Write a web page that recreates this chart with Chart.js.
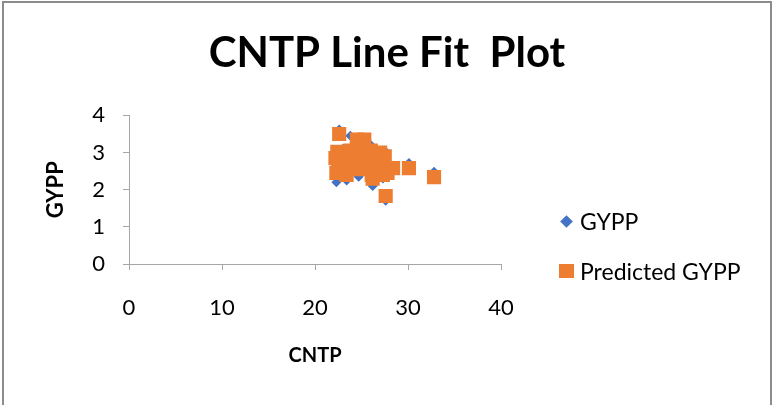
<!DOCTYPE html>
<html lang="en">
<head>
  <meta charset="UTF-8">
  <title>CNTP Line Fit Plot</title>
  <script src="https://cdn.jsdelivr.net/npm/chart.js"></script>
  <style>
    body { margin: 0; padding: 0; background: #fff; }
    #wrap { position: relative; width: 774px; height: 405px; overflow: hidden; }
    #frame {
      position: absolute; left: 2px; top: 1px; width: 766px; height: 440px;
      border: 2px solid #8c8c8c; pointer-events: none;
    }
    canvas { position: absolute; left: 0; top: 0; }
    #legend {
      position: absolute; left: 556px; top: 207px;
      font-family: Lato, "Open Sans", sans-serif; font-size: 23px; color: #000;
    }
    #legend .item { display: flex; align-items: center; height: 28px; margin-bottom: 22px; }
    #legend .mark { width: 20px; height: 20px; margin-right: 4px; display: flex;
                    align-items: center; justify-content: center; }
    #legend .diamond { width: 9px; height: 9px; transform: rotate(45deg); }
    #legend .square { width: 15px; height: 14px; }
  </style>
</head>
<body>
  <div id="wrap">
    <canvas id="chart" width="774" height="405"></canvas>
    <div id="legend"></div>
    <div id="frame"></div>
  </div>

  <script>
    const cntp = [22.6, 22.3, 22.2, 22.4, 22.5, 22.8, 23.0, 23.4, 23.6, 23.8,
                  24.2, 24.5, 24.7, 24.8, 25.0, 25.2, 25.3, 25.5, 25.8, 26.0,
                  26.1, 26.2, 26.4, 26.6, 26.8, 27.0, 27.2, 27.3, 27.5, 27.6,
                  27.8, 28.4, 30.1, 32.8, 22.9, 24.0, 25.6];
    const gypp = [3.62, 2.20, 2.70, 2.95, 2.40, 2.60, 3.10, 2.25, 2.80, 3.45,
                  2.55, 3.30, 2.35, 3.10, 2.95, 2.70, 3.30, 2.50, 2.90, 3.20,
                  2.30, 2.10, 2.75, 3.00, 2.40, 2.90, 2.60, 2.30, 3.05, 1.70,
                  2.55, 2.60, 2.72, 2.48, 2.85, 2.65, 2.45];
    const predicted = [3.50, 2.45, 2.85, 3.02, 2.55, 2.75, 2.95, 2.40, 2.65, 3.05,
                       2.70, 3.35, 2.55, 2.90, 3.15, 2.80, 3.35, 2.60, 2.85, 3.05,
                       2.40, 2.30, 2.65, 2.95, 2.55, 3.00, 2.75, 2.40, 2.90, 1.83,
                       2.45, 2.58, 2.58, 2.34, 2.70, 2.95, 2.85];
    const xTicks = [0, 10, 20, 30, 40];
    const yTicks = [0, 1, 2, 3, 4];

    const font = 'Lato, "Open Sans", sans-serif';
    const axisColor = '#a6a6a6';

    function pairs(xs, ys) {
      return xs.map((x, i) => ({ x: x, y: ys[i] }));
    }

    const datasets = [
      {
        label: 'GYPP',
        data: pairs(cntp, gypp),
        pointStyle: 'rectRot',
        pointRadius: 5,
        backgroundColor: '#4472c4',
        borderColor: '#4472c4',
        borderWidth: 0,
        order: 1
      },
      {
        label: 'Predicted GYPP',
        data: pairs(cntp, predicted),
        pointStyle: 'rect',
        pointRadius: 10,
        backgroundColor: '#ed7d31',
        borderColor: '#ed7d31',
        borderWidth: 0,
        order: 0
      }
    ];

    const ctx = document.getElementById('chart').getContext('2d');
    new Chart(ctx, {
      type: 'scatter',
      data: { datasets: datasets },
      options: {
        responsive: false,
        animation: false,
        layout: { padding: { left: 0, top: 12, right: 0, bottom: 20 } },
        scales: {
          x: {
            type: 'linear',
            min: 0, max: 40,
            afterBuildTicks: s => { s.ticks = xTicks.map(v => ({ value: v })); },
            afterFit: s => { s.height = 121; },
            grid: { drawOnChartArea: false, drawTicks: true, tickLength: 6, color: axisColor },
            border: { color: axisColor, width: 1 },
            ticks: { color: '#000', font: { family: font, size: 22 }, padding: 25 },
            title: { display: true, text: 'CNTP', color: '#000',
                     font: { family: font, size: 20, weight: 'bold' }, padding: { top: 0, bottom: 17 } }
          },
          y: {
            type: 'linear',
            min: 0, max: 4,
            afterBuildTicks: s => { s.ticks = yTicks.map(v => ({ value: v })); },
            afterFit: s => { s.width = 129; },
            grid: { drawOnChartArea: false, drawTicks: true, tickLength: 6, color: axisColor },
            border: { color: axisColor, width: 1 },
            ticks: { color: '#000', font: { family: font, size: 22 }, padding: 18 },
            title: { display: true, text: 'GYPP', color: '#000',
                     font: { family: font, size: 22, weight: 'bold' }, padding: { top: 43, bottom: 0 } }
          },
          // empty right-side box that keeps space for the legend
          side: {
            type: 'linear',
            position: 'right',
            afterFit: s => { s.width = 273; },
            grid: { display: false },
            border: { display: false },
            ticks: { display: false }
          }
        },
        plugins: {
          title: {
            display: true,
            text: 'CNTP Line Fit  Plot',
            color: '#000',
            font: { family: font, size: 42, weight: 'bold' },
            padding: { top: 16, bottom: 37 }
          },
          legend: { display: false },
          tooltip: { enabled: false }
        }
      }
    });

    // legend built from the datasets
    const legend = document.getElementById('legend');
    datasets.forEach(d => {
      const item = document.createElement('div');
      item.className = 'item';
      const mark = document.createElement('span');
      mark.className = 'mark';
      const shape = document.createElement('span');
      shape.className = d.pointStyle === 'rect' ? 'square' : 'diamond';
      shape.style.background = d.backgroundColor;
      mark.appendChild(shape);
      const txt = document.createElement('span');
      txt.textContent = d.label;
      item.appendChild(mark);
      item.appendChild(txt);
      legend.appendChild(item);
    });
  </script>
</body>
</html>
